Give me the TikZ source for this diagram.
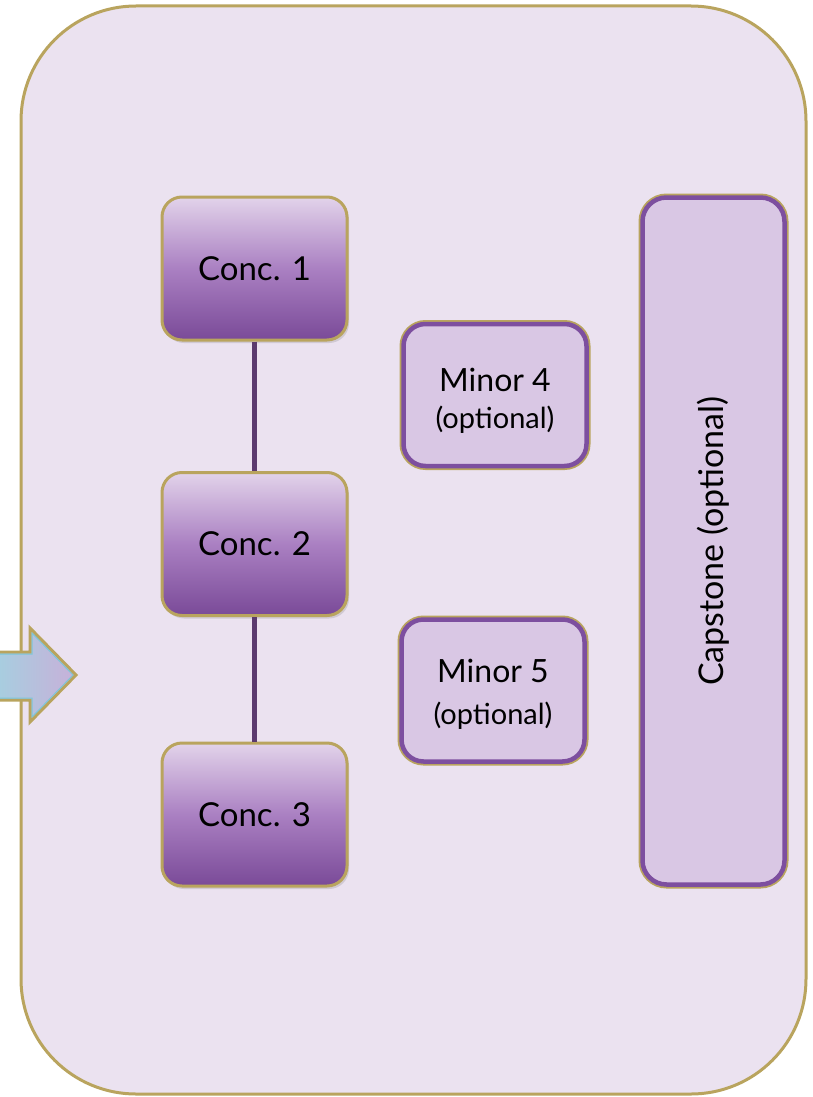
\documentclass[tikz,border=0pt]{standalone}
\usepackage{fontspec}
\setmainfont{Lato}
\usetikzlibrary{shadows}
\definecolor{bgfill}{HTML}{EBE2F0}
\definecolor{gold}{HTML}{B9A45E}
\definecolor{ctop}{HTML}{E2D3EA}
\definecolor{cmid}{HTML}{AA80C2}
\definecolor{cbot}{HTML}{7A4A98}
\definecolor{minfill}{HTML}{D9C7E4}
\definecolor{minedge}{HTML}{7D4F9F}
\definecolor{conn}{HTML}{5B3A6E}
\definecolor{arrl}{HTML}{A6CFE0}
\definecolor{arrr}{HTML}{C8B0D9}
\definecolor{arredge}{HTML}{7CC6D8}
\tikzset{
  frame/.style={draw=gold, line width=3pt, fill=bgfill, rounded corners=115pt},
  concbox/.style={draw=gold, line width=3pt, rounded corners=20pt,
    top color=ctop, bottom color=cbot, middle color=cmid,
    minimum width=185pt, minimum height=143pt, inner sep=0pt,
    font=\fontsize{33}{38}\selectfont,
    drop shadow={opacity=0.25, shadow xshift=2pt, shadow yshift=-3pt}},
  minbox/.style={preaction={draw=gold, line width=8pt}, draw=minedge, line width=4.5pt,
    fill=minfill, rounded corners=22pt, inner sep=0pt,
    minimum width=183pt, minimum height=142pt},
  mintext/.style={inner sep=0pt, font=\fontsize{32}{38}\selectfont},
  opttext/.style={inner sep=0pt, font=\fontsize{29}{34}\selectfont},
  capbox/.style={preaction={draw=gold, line width=8pt}, draw=minedge, line width=4.5pt,
    fill=minfill, rounded corners=24pt, inner sep=0pt,
    minimum width=142pt, minimum height=687pt},
  connector/.style={draw=conn, line width=5pt},
  arrowshape/.style={draw=gold, line width=3pt, left color=arrl, right color=arrr},
}
\begin{document}
\begin{tikzpicture}[x=1pt, y=-1pt]
\useasboundingbox (0,0) rectangle (813,1097);
\draw[frame] (21,6) rectangle (806,1094);
\node[concbox] (c1) at (254.5,268.5) {Conc. 1};
\node[concbox] (c2) at (254.5,544) {Conc. 2};
\node[concbox] (c3) at (254.5,814.5) {Conc. 3};
\draw[connector] (c1.south) -- (c2.north);
\draw[connector] (c2.south) -- (c3.north);
\node[minbox] (m4) at (495,395) {};
\node[mintext] (m4a) at (495,380) {Minor 4};
\node[opttext] (m4b) at (495,420) {(optional)};
\node[minbox] (m5) at (493,690.5) {};
\node[mintext] (m5a) at (493,671) {Minor 5};
\node[opttext] (m5b) at (493,716) {(optional)};
\node[capbox] (cap) at (713.5,541) {};
\node[rotate=90, font=\fontsize{34}{40}\selectfont] (captext) at (cap.center) {Capstone (optional)};
\draw[arrowshape] (-5,652) -- (30,652) -- (30,628) -- (76,675) -- (30,722) -- (30,700) -- (-5,700) -- cycle;
\draw[draw=arredge, line width=1pt] (-5,654) -- (32,654) -- (32,633) -- (73,675) -- (32,717) -- (32,698) -- (-5,698);
\end{tikzpicture}
\end{document}
